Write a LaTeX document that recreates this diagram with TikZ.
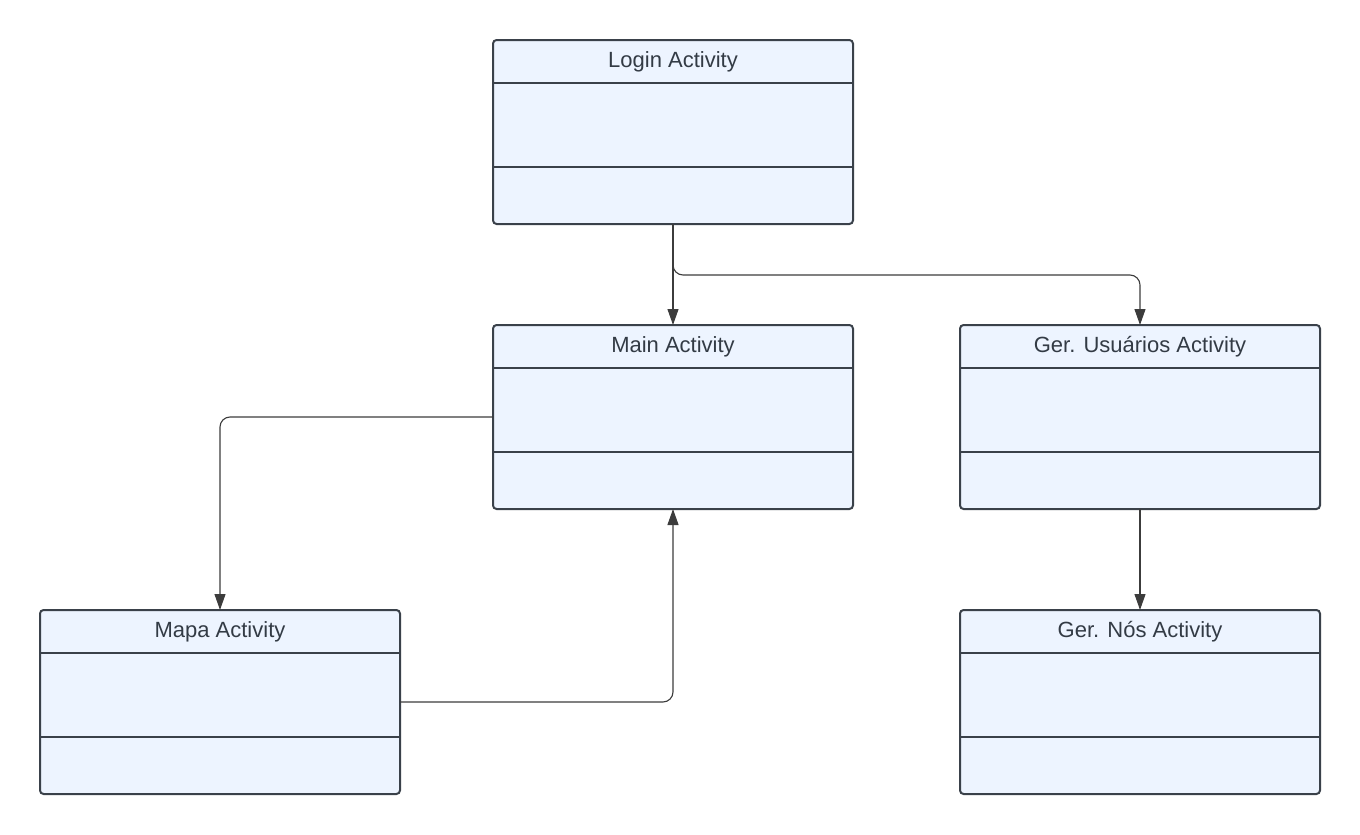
\documentclass[tikz,border=0pt]{standalone}
\usepackage{fontspec}
\setmainfont{Liberation Sans}
\usetikzlibrary{arrows.meta}
\definecolor{boxfill}{HTML}{EDF4FF}
\definecolor{boxline}{HTML}{3A414A}
\definecolor{txtcol}{HTML}{333B45}
\definecolor{conncol}{HTML}{3C3C3C}
\tikzset{
  cls/.style={draw=boxline, fill=boxfill, line width=1pt, rounded corners=1.8pt,
    minimum width=180pt, minimum height=92pt, inner sep=0pt, outer sep=0pt},
  divider/.style={draw=boxline, line width=1pt},
  ttl/.style={text=txtcol, font=\fontsize{11pt}{13pt}\selectfont, anchor=base, inner sep=0pt},
  conn/.style={draw=conncol, line width=0.55pt, rounded corners=5pt,
    -{Triangle[length=8pt,width=5.5pt]}},
}
\newcommand{\umlclass}[3]{%
  \node[cls] (#1) at (#2) {};
  \draw[divider] ([yshift=-21.5pt]#1.north west) -- ([yshift=-21.5pt]#1.north east);
  \draw[divider] ([yshift=-63.5pt]#1.north west) -- ([yshift=-63.5pt]#1.north east);
  \node[ttl] (#1-t) at ([yshift=-13.5pt]#1.north) {#3};
}
\begin{document}
\begin{tikzpicture}[x=0.5pt,y=-0.5pt]
\useasboundingbox (0,0) rectangle (1360,835);
\umlclass{login}{673,132}{Login Activity}
\umlclass{main}{673,417}{Main Activity}
\umlclass{gerusu}{1140,417}{Ger. Usuários Activity}
\umlclass{mapa}{220,702}{Mapa Activity}
\umlclass{gernos}{1140,702}{Ger. Nós Activity}
\coordinate (b1) at (673,275);
\draw[conn] (login.south) -- (main.north);
\draw[conn] (login.south) -- (b1) -| (gerusu.north);
\draw[conn] (main.west) -| (mapa.north);
\draw[conn] (mapa.east) -| (main.south);
\draw[conn] (gerusu.south) -- (gernos.north);
\end{tikzpicture}
\end{document}
